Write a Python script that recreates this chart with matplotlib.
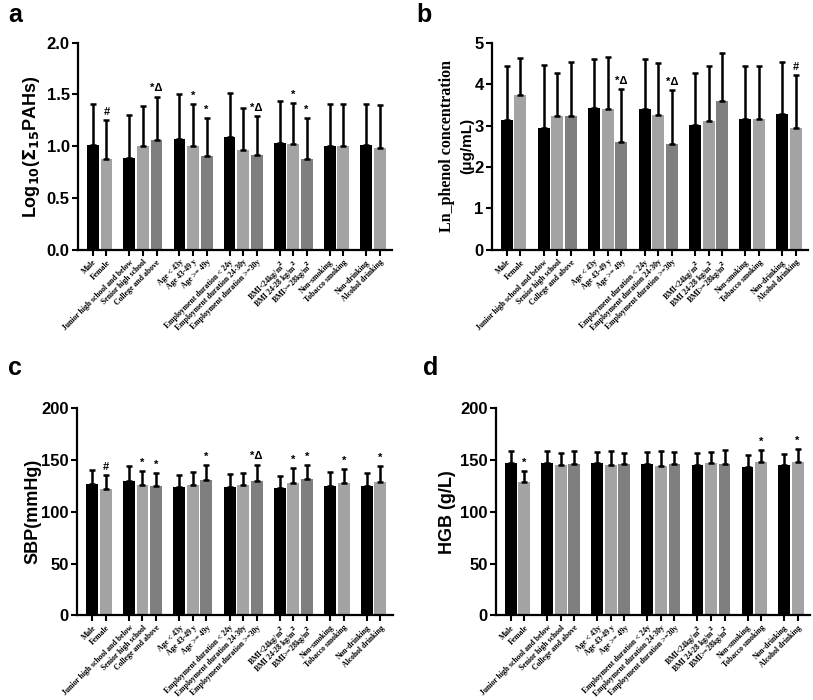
import numpy as np
import matplotlib.pyplot as plt

plt.rcParams['font.family'] = ['Liberation Sans', 'DejaVu Sans']
plt.rcParams['mathtext.default'] = 'bf'

# categories and group sizes
categories = ['Male', 'Female',
              'Junior high school and below', 'Senior high school', 'College and above',
              'Age < 43y', 'Age 43-49 y', 'Age >= 49y',
              'Employment duration < 24y', 'Employment duration 24-30y', 'Employment duration >=30y',
              'BMI<24kg/m$^{2}$', 'BMI 24-28 kg/m$^{2}$', 'BMI>=28kg/m$^{2}$',
              'Non-smoking', 'Tobacco smoking',
              'Non-drinking', 'Alcohol drinking']
group_sizes = [2, 3, 3, 3, 3, 2, 2]

# panel a: Log10(sum15 PAHs)
pah_mean = [1.01, 0.88, 0.89, 1.00, 1.06, 1.07, 1.00, 0.91, 1.09, 0.96, 0.92, 1.03, 1.02, 0.88, 1.00, 1.00, 1.01, 0.98]
pah_sd = [0.40, 0.37, 0.41, 0.39, 0.42, 0.43, 0.41, 0.36, 0.42, 0.41, 0.37, 0.41, 0.40, 0.39, 0.41, 0.41, 0.40, 0.42]
pah_marks = ['', '#', '', '', '*Δ', '', '*', '*', '', '', '*Δ', '', '*', '*', '', '', '', '']

# panel b: Ln phenol concentration
phenol_mean = [3.14, 3.74, 2.94, 3.23, 3.23, 3.43, 3.39, 2.61, 3.39, 3.26, 2.55, 3.02, 3.11, 3.59, 3.15, 3.15, 3.27, 2.93]
phenol_sd = [1.30, 0.90, 1.52, 1.03, 1.30, 1.18, 1.26, 1.27, 1.21, 1.26, 1.31, 1.26, 1.33, 1.17, 1.29, 1.29, 1.27, 1.28]
phenol_marks = ['', '', '', '', '', '', '', '*Δ', '', '', '*Δ', '', '', '', '', '', '', '#']

# panel c: SBP
sbp_mean = [126.5, 122.3, 129.7, 125.8, 124.8, 124.2, 125.8, 130.6, 124.2, 125.5, 130.0, 123.2, 127.4, 131.6, 124.8, 127.4, 124.8, 129.0]
sbp_sd = [13.8, 13.5, 14.8, 13.2, 12.3, 11.3, 12.6, 14.9, 11.9, 12.2, 15.5, 11.3, 14.5, 13.9, 13.3, 13.9, 12.3, 15.2]
sbp_marks = ['', '#', '', '*', '*', '', '', '*', '', '', '*Δ', '', '*', '*', '', '*', '', '*']

# panel d: HGB
hgb_mean = [147.4, 128.4, 147.1, 144.8, 146.1, 146.8, 144.8, 146.1, 146.1, 144.2, 146.5, 144.8, 146.8, 146.1, 142.9, 148.1, 144.8, 147.7]
hgb_sd = [11.0, 11.3, 11.3, 12.3, 12.3, 11.3, 14.2, 11.0, 11.6, 14.2, 11.2, 12.3, 11.3, 13.3, 12.3, 11.6, 11.0, 12.6]
hgb_marks = ['', '*', '', '', '', '', '', '', '', '', '', '', '', '', '', '*', '', '*']

# bar positions with a gap between groups, colour by position in group
gap = 0.7
pos, cols = [], []
shades = ['#000000', '#a3a3a3', '#7f7f7f']
start = 0.0
for g in group_sizes:
    for k in range(g):
        pos.append(start + k)
        cols.append(shades[k])
    start += g + gap
pos = np.array(pos)

fig = plt.figure(figsize=(8.13, 7), dpi=100)

panels = [
    ('a', (0.01, 0.979), [0.096, 0.643, 0.386, 0.296], pah_mean, pah_sd, pah_marks, (0, 2.0),
     [0, 0.5, 1.0, 1.5, 2.0], '%.1f', 'Log$_{10}$($\\Sigma_{15}$PAHs)', 'sans', -0.115),
    ('b', (0.512, 0.979), [0.605, 0.643, 0.389, 0.296], phenol_mean, phenol_sd, phenol_marks, (0, 5),
     [0, 1, 2, 3, 4, 5], '%d', 'Ln_phenol concentration', 'serif', -0.118),
    ('c', (0.01, 0.474), [0.095, 0.121, 0.388, 0.296], sbp_mean, sbp_sd, sbp_marks, (0, 200),
     [0, 50, 100, 150, 200], '%d', 'SBP(mmHg)', 'sans', -0.114),
    ('d', (0.52, 0.474), [0.610, 0.121, 0.386, 0.296], hgb_mean, hgb_sd, hgb_marks, (0, 200),
     [0, 50, 100, 150, 200], '%d', 'HGB (g/L)', 'sans', -0.127),
]

for letter, lpos, rect, mean, sd, marks, ylim, yticks, fmt, ylabel, lfont, lx in panels:
    ax = fig.add_axes(rect)
    ax.bar(pos, mean, width=0.88, color=cols, zorder=2)
    ax.errorbar(pos, mean, yerr=[np.zeros(len(sd)), sd], fmt='none', ecolor='black',
                elinewidth=1.8, capsize=2.5, capthick=1.8, zorder=3)
    span = ylim[1] - ylim[0]
    for x, m, s, t in zip(pos, mean, sd, marks):
        if t:
            ax.text(x, m + s + span * 0.015, t, ha='center', va='bottom', fontsize=8, fontweight='bold')
    ax.set_ylim(*ylim)
    ax.set_xlim(pos[0] - 1.1, pos[-1] + 0.9)
    ax.set_yticks(yticks)
    ax.set_yticklabels([fmt % v for v in yticks], fontsize=12, fontweight='bold')
    ax.set_xticks(pos)
    ax.set_xticklabels(categories, rotation=45, ha='right', rotation_mode='anchor',
                       fontsize=5.6, fontweight='bold', family='Liberation Serif')
    for side in ['top', 'right']:
        ax.spines[side].set_visible(False)
    for side in ['left', 'bottom']:
        ax.spines[side].set_linewidth(1.6)
    ax.tick_params(axis='y', direction='out', length=4, width=1.5, pad=2)
    ax.tick_params(axis='x', direction='out', length=4, width=1.5, pad=2)
    if lfont == 'serif':
        ax.set_ylabel(ylabel, fontsize=11.5, fontweight='bold', family='Liberation Serif')
        ax.text(-0.078, 0.5, '(μg/mL)', transform=ax.transAxes, rotation=90,
                ha='center', va='center', fontsize=11, fontweight='bold')
    else:
        ax.set_ylabel(ylabel, fontsize=13, fontweight='bold')
    ax.yaxis.set_label_coords(lx, 0.5)
    fig.text(lpos[0], lpos[1], letter, fontsize=18, fontweight='bold', ha='left', va='center')

fig.savefig('out.png', dpi=100)
